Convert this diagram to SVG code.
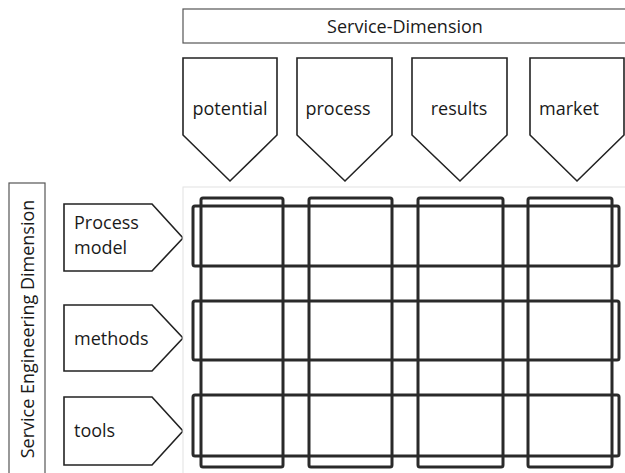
<svg xmlns="http://www.w3.org/2000/svg" width="625" height="473" viewBox="0 0 625 473">
  <style>
    .lbl { font-family: "Open Sans", "Noto Sans", "Liberation Sans", sans-serif; font-size: 18px; fill: #1a1a1a; }
    .shape { fill: #ffffff; stroke: #222222; stroke-width: 1.6; stroke-linejoin: miter; }
    .frame { fill: #ffffff; stroke: #555555; stroke-width: 1.2; }
    .cell { fill: none; stroke: #2a2a2a; stroke-width: 3; }
  </style>
  <rect width="625" height="473" fill="#ffffff"/>

  <!-- header bar -->
  <g id="service-dimension">
    <rect class="frame" x="183" y="9" width="450" height="34"/>
    <text class="lbl" x="405" y="33" text-anchor="middle">Service-Dimension</text>
  </g>

  <!-- column heads (down-pointing pentagons) -->
  <g id="col-potential">
    <path class="shape" d="M183,58 H277 V135 L230,181 L183,135 Z"/>
    <text class="lbl" x="230" y="115" text-anchor="middle">potential</text>
  </g>
  <g id="col-process">
    <path class="shape" d="M297,58 H392 V135 L345,181 L297,135 Z"/>
    <text class="lbl" x="338" y="115" text-anchor="middle">process</text>
  </g>
  <g id="col-results">
    <path class="shape" d="M412,58 H507 V135 L460,181 L412,135 Z"/>
    <text class="lbl" x="459" y="115" text-anchor="middle">results</text>
  </g>
  <g id="col-market">
    <path class="shape" d="M530,58 H624 V135 L577,181 L530,135 Z"/>
    <text class="lbl" x="569" y="115" text-anchor="middle">market</text>
  </g>

  <!-- vertical axis label -->
  <g id="engineering-dimension">
    <rect class="frame" x="9" y="183" width="36" height="295"/>
    <text class="lbl" transform="translate(34,329) rotate(-90)" text-anchor="middle">Service Engineering Dimension</text>
  </g>

  <!-- row heads (right-pointing pentagons) -->
  <g id="row-process-model">
    <path class="shape" d="M64,204 H152 L183,238 L152,271 H64 Z"/>
    <text class="lbl" x="74" y="229">Process</text>
    <text class="lbl" x="74" y="254">model</text>
  </g>
  <g id="row-methods">
    <path class="shape" d="M64,305 H152 L183,338 L152,371 H64 Z"/>
    <text class="lbl" x="74" y="345">methods</text>
  </g>
  <g id="row-tools">
    <path class="shape" d="M64,397 H152 L183,431 L152,465 H64 Z"/>
    <text class="lbl" x="74" y="437">tools</text>
  </g>

  <!-- matrix of overlapping column and row frames -->
  <g id="matrix">
    <rect x="183" y="187" width="445" height="290" fill="#ffffff" stroke="#e2e2e2" stroke-width="1"/>
    <rect class="cell" x="201" y="198" width="82" height="269" rx="2"/>
    <rect class="cell" x="309" y="198" width="83" height="269" rx="2"/>
    <rect class="cell" x="418" y="198" width="85" height="269" rx="2"/>
    <rect class="cell" x="528" y="198" width="84" height="269" rx="2"/>
    <rect class="cell" x="193" y="206" width="426" height="60" rx="2"/>
    <rect class="cell" x="193" y="301" width="426" height="59" rx="2"/>
    <rect class="cell" x="193" y="395" width="426" height="61" rx="2"/>
  </g>
</svg>
